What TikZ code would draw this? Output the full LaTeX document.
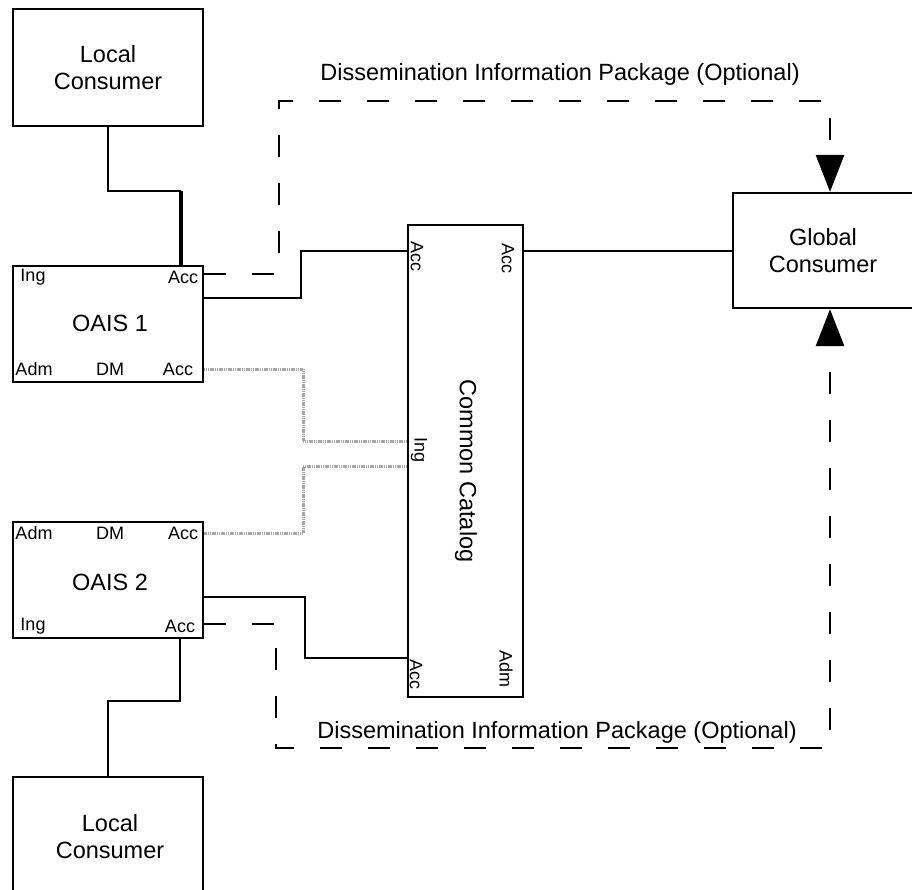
\documentclass[tikz,border=0pt]{standalone}
\usepackage{fontspec}
\setmainfont{Liberation Sans}
\usetikzlibrary{arrows.meta,calc}
\tikzset{
  box/.style={draw=black, line width=2.3pt, rectangle, inner sep=0pt, align=center},
  big/.style={font=\fontsize{23.5}{27}\selectfont},
  small/.style={font=\fontsize{18}{20}\selectfont, inner sep=0pt},
  conn/.style={draw=black, line width=2.8pt},
  thickconn/.style={draw=black, line width=4.8pt},
  dip/.style={draw=black, line width=2.8pt, dash pattern=on 22pt off 26pt},
  grayline/.style={draw=gray!70, line width=3pt, dash pattern=on 1.2pt off 0.6pt},
  bigtip/.style={-{Triangle[length=37pt,width=28pt]}}
}
\begin{document}
\begin{tikzpicture}[x=1pt,y=-1pt]
\useasboundingbox (0,0) rectangle (912,889);
% boxes
\node[box, big, minimum width=190pt, minimum height=117pt] (lc1) at (108,67.5) {Local\\Consumer};
\node[box, big, minimum width=190pt, minimum height=116pt] (oais1) at (108,324) {};
\node[big] (oais1t) at (110,323) {OAIS 1};
\node[box, big, minimum width=190pt, minimum height=116pt] (oais2) at (108,580) {};
\node[big] (oais2t) at (110,582) {OAIS 2};
\node[box, minimum width=190pt, minimum height=117pt] (lc2) at (108,835.5) {};
\node[big, align=center] (lc2t) at (110,837) {Local\\Consumer};
\node[box, minimum width=115pt, minimum height=472pt] (cat) at (465.5,461) {};
\node[big, rotate=-90] (catt) at (466,471) {Common Catalog};
\node[box, big, minimum width=180pt, minimum height=115pt] (gc) at (823,250.5) {Global\\Consumer};

% port labels OAIS 1
\node[small] (o1ing) at (33,277) {Ing};
\node[small] (o1acc) at (183,277) {Acc};
\node[small] (o1adm) at (34,369) {Adm};
\node[small] (o1dm) at (110,369) {DM};
\node[small] (o1acc2) at (178,369) {Acc};
% port labels OAIS 2
\node[small] (o2adm) at (34,533) {Adm};
\node[small] (o2dm) at (110,533) {DM};
\node[small] (o2acc) at (183,533) {Acc};
\node[small] (o2ing) at (33,626) {Ing};
\node[small] (o2acc2) at (180,626) {Acc};
% port labels catalog
\node[small, rotate=-90] (cacc1) at (417,256) {Acc};
\node[small, rotate=-90] (cacc2) at (508,258) {Acc};
\node[small, rotate=-90] (cing) at (419,450) {Ing};
\node[small, rotate=-90] (cacc3) at (416,674) {Acc};
\node[small, rotate=-90] (cadm) at (506,669) {Adm};

% DIP labels
\node[big] (dip1) at (560,74) {Dissemination Information Package (Optional)};
\node[big] (dip2) at (557,732) {Dissemination Information Package (Optional)};

% local consumer 1 to OAIS 1
\coordinate (j1) at (181,191);
\draw[conn] (lc1.south) |- (j1);
\draw[thickconn] (j1) -- (j1 |- oais1.north);

% OAIS 1 to catalog
\draw[conn] (oais1.east |- 0,298) -| (301,251) -- (cat.west |- 0,251);
% catalog to global consumer
\draw[conn] (cat.east |- 0,251) -- (gc.west |- 0,251);
% OAIS 2 to catalog
\draw[conn] (oais2.east |- 0,597) -| (305,658) -- (cat.west |- 0,658);
% OAIS 2 to local consumer 2
\coordinate (j2) at (180,638);
\draw[conn] (j2) |- (108,701) -- (lc2.north);

% gray ingest lines
\draw[grayline] (oais1.east |- 0,369) -| (303,441) -- (cat.west |- 0,441);
\draw[grayline] (cat.west |- 0,466) -| (303,533) -- (oais2.east |- 0,533);

% DIP dashed arrows
\draw[dip, bigtip] (oais1.east |- 0,274) -| (279,101) -| (gc.north -| 830,0);
\draw[dip, bigtip] (oais2.east |- 0,624) -| (276,748) -| (gc.south -| 830,0);
\end{tikzpicture}
\end{document}
